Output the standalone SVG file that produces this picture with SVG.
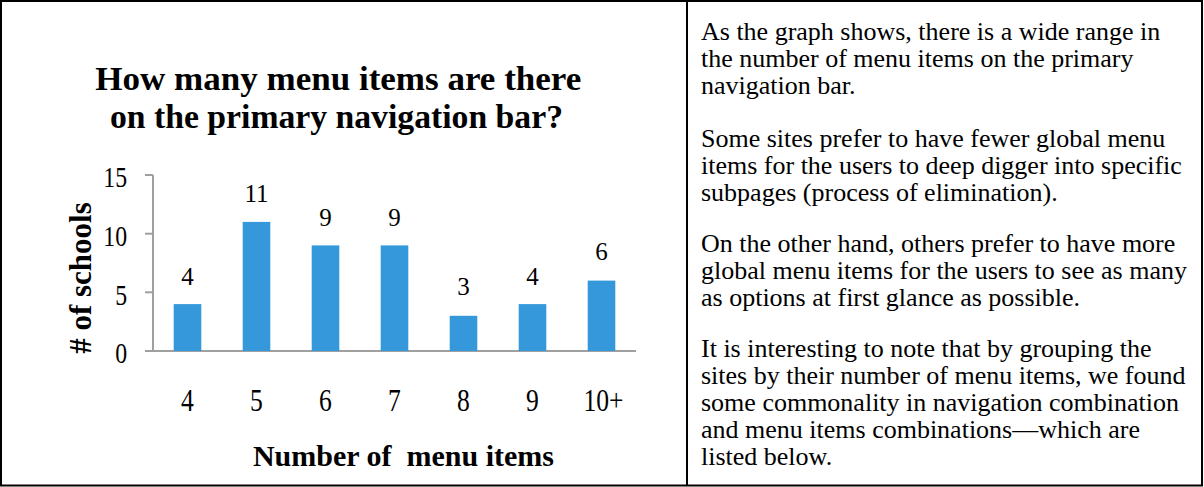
<svg xmlns="http://www.w3.org/2000/svg" width="1204" height="487" viewBox="0 0 1204 487">
<style>
.serif{font-family:"Liberation Serif","Times New Roman",serif;fill:#000}
.bold{font-weight:bold}
.bar{fill:#3498DB}
.axis{stroke:#A0A0A0;stroke-width:2;fill:none}
.frame{stroke:#000;stroke-width:2;fill:#fff}
.val{font-size:25px;text-anchor:middle}
.tick{font-size:29px;text-anchor:end}
.cat{font-size:32px;text-anchor:middle}
.body{font-size:26px}
</style>
<g id="frame">
<rect class="frame" x="1" y="1" width="1201" height="484.5"/>
<line x1="687" y1="1" x2="687" y2="485.5" stroke="#000" stroke-width="2"/>
</g>
<g id="chart-title" class="serif bold">
<text x="338.3" y="90" font-size="34" text-anchor="middle" textLength="486" lengthAdjust="spacingAndGlyphs">How many menu items are there</text>
<text x="336.5" y="128" font-size="34" text-anchor="middle" textLength="453" lengthAdjust="spacingAndGlyphs">on the primary navigation bar?</text>
</g>
<g id="axes">
<line class="axis" x1="153" y1="175" x2="153" y2="351"/>
<line class="axis" x1="145" y1="351" x2="636" y2="351"/>
<line class="axis" x1="145" y1="175" x2="153" y2="175"/>
<line class="axis" x1="145" y1="233.7" x2="153" y2="233.7"/>
<line class="axis" x1="145" y1="292.3" x2="153" y2="292.3"/>
</g>
<g id="y-ticks" class="serif" transform="scale(0.82,1)">
<text class="tick" x="154.9" y="187.5">15</text>
<text class="tick" x="154.9" y="246.2">10</text>
<text class="tick" x="154.9" y="304.8">5</text>
<text class="tick" x="154.9" y="363.5">0</text>
</g>
<g id="bars">
<rect class="bar" x="173.7" y="304.1" width="27.6" height="46.9"/>
<rect class="bar" x="242.7" y="221.9" width="27.6" height="129.1"/>
<rect class="bar" x="311.7" y="245.4" width="27.6" height="105.6"/>
<rect class="bar" x="380.7" y="245.4" width="27.6" height="105.6"/>
<rect class="bar" x="449.7" y="315.8" width="27.6" height="35.2"/>
<rect class="bar" x="518.7" y="304.1" width="27.6" height="46.9"/>
<rect class="bar" x="587.7" y="280.6" width="27.6" height="70.4"/>
</g>
<g id="value-labels" class="serif">
<text class="val" x="187.5" y="284.6">4</text>
<text class="val" x="256.5" y="202">11</text>
<text class="val" x="325.5" y="225.8">9</text>
<text class="val" x="394.5" y="225.8">9</text>
<text class="val" x="463.5" y="295.3">3</text>
<text class="val" x="532.5" y="284.6">4</text>
<text class="val" x="601.5" y="260">6</text>
</g>
<g id="x-categories" class="serif" transform="scale(0.8,1)">
<text class="cat" x="234.4" y="411.5">4</text>
<text class="cat" x="320.6" y="411.5">5</text>
<text class="cat" x="406.9" y="411.5">6</text>
<text class="cat" x="493.1" y="411.5">7</text>
<text class="cat" x="579.4" y="411.5">8</text>
<text class="cat" x="665.6" y="411.5">9</text>
<text class="cat" x="754.4" y="411.5">10+</text>
</g>
<g id="x-title" class="serif bold">
<text x="403.5" y="466" font-size="30" text-anchor="middle" xml:space="preserve">Number of  menu items</text>
</g>
<g id="y-title" class="serif bold">
<text transform="translate(91,278) rotate(-90)" x="0" y="0" font-size="31" text-anchor="middle"># of schools</text>
</g>
<g id="description" class="serif body">
<text x="701" y="39.5">As the graph shows, there is a wide range in</text>
<text x="701" y="66.5">the number of menu items on the primary</text>
<text x="701" y="93.5">navigation bar.</text>
<text x="701" y="146.5">Some sites prefer to have fewer global menu</text>
<text x="701" y="173.5">items for the users to deep digger into specific</text>
<text x="701" y="200.5">subpages (process of elimination).</text>
<text x="701" y="251.5">On the other hand, others prefer to have more</text>
<text x="701" y="278.5">global menu items for the users to see as many</text>
<text x="701" y="305.5">as options at first glance as possible.</text>
<text x="701" y="356.5">It is interesting to note that by grouping the</text>
<text x="701" y="383.5">sites by their number of menu items, we found</text>
<text x="701" y="410.5">some commonality in navigation combination</text>
<text x="701" y="437.5">and menu items combinations—which are</text>
<text x="701" y="464.5">listed below.</text>
</g>
</svg>
